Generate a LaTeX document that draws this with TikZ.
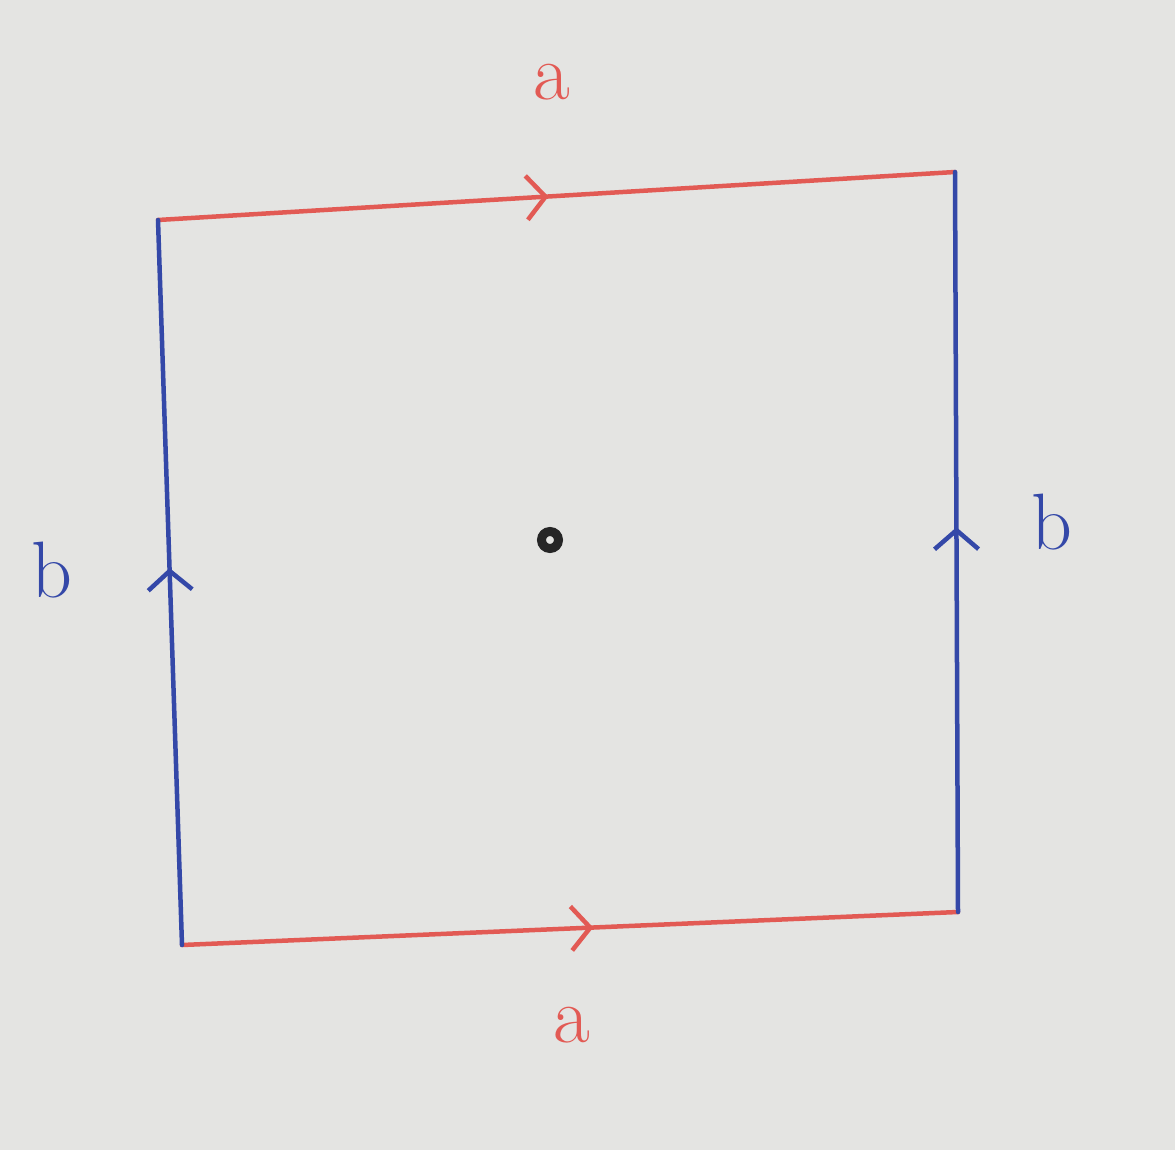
\documentclass[tikz,border=0pt]{standalone}
\usetikzlibrary{decorations.markings,arrows.meta}
\definecolor{penred}{RGB}{226,90,84}
\definecolor{penblue}{RGB}{52,72,168}
\definecolor{paper}{RGB}{228,228,226}
\tikzset{
  pen/.style={line width=4.5pt,line cap=round,line join=round},
  barb/.style={postaction={decorate},decoration={markings,
    mark=at position #1 with {\arrow{Straight Barb[length=19pt,width=44pt,line width=4.5pt]}}}},
  edgea/.style={pen,draw=penred,barb=#1},
  edgeb/.style={pen,draw=penblue,barb=#1},
  lbl/.style={font=\fontsize{80}{80}\selectfont,inner sep=0pt}
}
\begin{document}
\begin{tikzpicture}[x=1pt,y=-1pt]
\useasboundingbox[fill=paper] (0,0) rectangle (1175,1150);
% corners of the square
\coordinate (tl) at (158,220);
\coordinate (tr) at (955,172);
\coordinate (br) at (958,912);
\coordinate (bl) at (182,945);
% edges
\draw[edgea=0.49] (tl) -- (tr);
\draw[edgea=0.53] (bl) -- (br);
\draw[edgeb=0.52] (bl) -- (tl);
\draw[edgeb=0.52] (br) -- (tr);
% labels
\node[lbl,text=penred] (atop) at (552,82) {a};
\node[lbl,text=penred] (abot) at (572,1025) {a};
\node[lbl,text=penblue] (bleft) at (52,570) {b};
\node[lbl,text=penblue] (bright) at (1052,522) {b};
% base point
\path[draw=black!85,line width=9pt,fill=paper] (550,540) circle (8.5pt);
\end{tikzpicture}
\end{document}
